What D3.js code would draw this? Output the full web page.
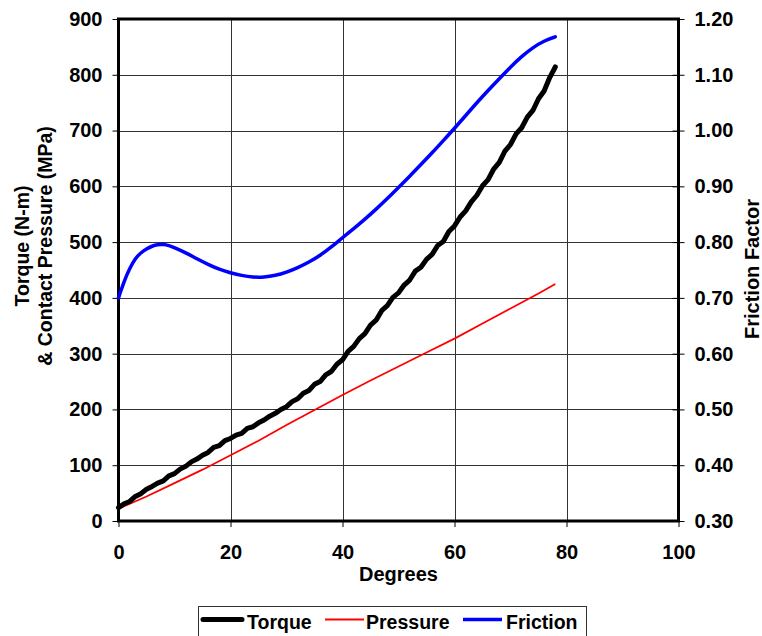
<!DOCTYPE html>
<html>
<head>
<meta charset="utf-8">
<script src="https://cdn.jsdelivr.net/npm/d3@7"></script>
<style>
  html, body { margin: 0; padding: 0; background: #fff; }
  svg { display: block; font-family: "Liberation Sans", Arial, Helvetica, sans-serif; font-weight: bold; }
</style>
</head>
<body>
<svg id="chart" width="762" height="636"></svg>
<script>
// ---- Data ----
const torqueDeg = d3.range(0, 79, 1);
const torqueVal = [24,31,35,44,49,57,62,68,72,81,
                   85,93,98,106,111,118,123,132,135,144,
                   148,154,157,166,169,176,181,188,193,200,
                   205,214,219,229,234,245,250,262,268,281,
                   289,304,313,327,336,351,360,377,386,401,
                   409,423,432,448,455,469,478,494,501,519,
                   529,545,556,572,584,601,612,631,643,663,
                   675,694,705,724,736,757,771,795,814];
const pressureDeg = [0,5,10,15,20,25,30,35,40,45,50,55,60,65,70,75,78];
const pressureVal = [22,44,68,92,118,144,172,199,226,252,277,302,327,354,381,408,425];
const frictionDeg = [0,1,2,3,4,5,6,7,8,9,10,12,14,16,18,20,22,24,26,28,30,32,34,36,38,
                     40,42,44,46,48,50,52,54,56,58,60,62,64,66,68,70,72,74,76,78];
const frictionVal = [0.700,0.730,0.753,0.771,0.781,0.788,0.793,0.7955,0.796,0.794,0.790,0.781,0.770,0.760,0.751,0.745,0.740,0.737,0.737,0.740,0.746,0.754,0.764,0.776,0.791,
                     0.808,0.824,0.841,0.859,0.878,0.898,0.918,0.939,0.960,0.982,1.004,1.027,1.050,1.072,1.093,1.114,1.133,1.149,1.161,1.168];
const xTicks = [0,20,40,60,80,100];
const yLeftTicks = [0,100,200,300,400,500,600,700,800,900];
const yRightTicks = [0.3,0.4,0.5,0.6,0.7,0.8,0.9,1.0,1.1,1.2];
const seriesNames = ["Torque","Pressure","Friction"];
const seriesColors = ["#000000","#ff0000","#0000ff"];
const seriesWidths = [5,1.8,3.5];

// ---- Layout ----
const L = 118.5, R = 678.5, T = 19, B = 521;
const svg = d3.select("#chart");
const x = d3.scaleLinear().domain([0,100]).range([L,R]);
const yL = d3.scaleLinear().domain([0,900]).range([B,T]);
const yR = d3.scaleLinear().domain([0.3,1.2]).range([B,T]);

// gridlines
const grid = svg.append("g").attr("stroke","#333").attr("stroke-width",1).attr("shape-rendering","crispEdges");
grid.selectAll(".v").data(xTicks.slice(1,-1)).join("line")
  .attr("x1",d=>Math.round(x(d))+0.5).attr("x2",d=>Math.round(x(d))+0.5).attr("y1",T).attr("y2",B);
grid.selectAll(".h").data(yLeftTicks.slice(1,-1)).join("line")
  .attr("y1",d=>Math.round(yL(d))+0.5).attr("y2",d=>Math.round(yL(d))+0.5).attr("x1",L).attr("x2",R);

// axes
const fs = 20;
const axL = svg.append("g").attr("transform",`translate(${L},0)`)
  .call(d3.axisLeft(yL).tickValues(yLeftTicks).tickSize(6).tickPadding(10).tickFormat(d3.format("d")));
const axR = svg.append("g").attr("transform",`translate(${R},0)`)
  .call(d3.axisRight(yR).tickValues(yRightTicks).tickSize(6).tickPadding(10).tickFormat(d3.format(".2f")));
const axB = svg.append("g").attr("transform",`translate(0,${B})`)
  .call(d3.axisBottom(x).tickValues(xTicks).tickSize(6).tickPadding(18).tickFormat(d3.format("d")));
axR.selectAll(".tick line").attr("x1",-6);
[axL,axR,axB].forEach(a=>{
  a.select(".domain").remove();
  a.selectAll(".tick line").attr("stroke","#000").attr("stroke-width",1);
  a.selectAll(".tick text").attr("font-size",fs).attr("font-weight","bold")
    .attr("font-family",'"Liberation Sans", Arial, sans-serif').attr("fill","#000");
});

// border
svg.append("rect").attr("x",L).attr("y",T).attr("width",R-L).attr("height",B-T)
  .attr("fill","none").attr("stroke","#000").attr("stroke-width",3);

// series
const pressure = pressureDeg.map((d,i)=>[d,pressureVal[i]]);
const torque = torqueDeg.map((d,i)=>[d,torqueVal[i]]);
const friction = frictionDeg.map((d,i)=>[d,frictionVal[i]]);
const lineL = d3.line().x(d=>x(d[0])).y(d=>yL(d[1]));
const lineR = d3.line().curve(d3.curveBasis).x(d=>x(d[0])).y(d=>yR(d[1]));
svg.append("path").datum(pressure).attr("d",lineL).attr("fill","none")
  .attr("stroke",seriesColors[1]).attr("stroke-width",seriesWidths[1]);
svg.append("path").datum(torque).attr("d",lineL).attr("fill","none")
  .attr("stroke",seriesColors[0]).attr("stroke-width",seriesWidths[0]).attr("stroke-linejoin","round").attr("stroke-linecap","round");
svg.append("path").datum(friction).attr("d",lineR).attr("fill","none")
  .attr("stroke",seriesColors[2]).attr("stroke-width",seriesWidths[2]).attr("stroke-linecap","round");

// titles
svg.append("text").attr("x",(L+R)/2).attr("y",581).attr("text-anchor","middle")
  .attr("font-size",fs).text("Degrees");
svg.append("text").attr("transform","translate(29,246) rotate(-90)").attr("text-anchor","middle")
  .attr("font-size",19.5).text("Torque (N-m)");
svg.append("text").attr("transform","translate(51.5,246) rotate(-90)").attr("text-anchor","middle")
  .attr("font-size",19.5).text("& Contact Pressure (MPa)");
svg.append("text").attr("transform","translate(759,269) rotate(-90)").attr("text-anchor","middle")
  .attr("font-size",fs).text("Friction Factor");

// legend
const lg = svg.append("g");
lg.append("rect").attr("x",198.5).attr("y",606.5).attr("width",388).attr("height",40)
  .attr("fill","#fff").attr("stroke","#333").attr("stroke-width",1);
const legX = [203,325,463];
const textX = [247,366,506];
seriesNames.forEach((n,i)=>{
  lg.append("line").attr("x1",legX[i]).attr("x2",legX[i]+39).attr("y1",619.5).attr("y2",619.5)
    .attr("stroke",seriesColors[i]).attr("stroke-width",seriesWidths[i]).attr("stroke-linecap", i===0?"round":"butt");
  lg.append("text").attr("x",textX[i]).attr("y",628.5).attr("font-size",19.5).text(n);
});
</script>
</body>
</html>
